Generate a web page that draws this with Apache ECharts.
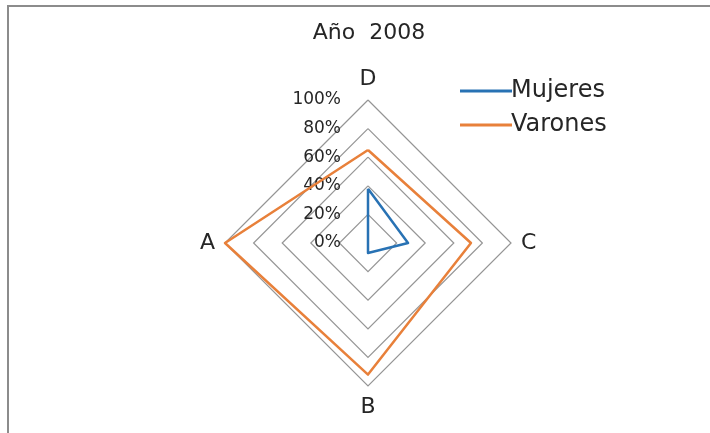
<!DOCTYPE html>
<html>
<head>
<meta charset="utf-8">
<script src="https://cdn.jsdelivr.net/npm/echarts@6/dist/echarts.min.js"></script>
<style>
html,body{margin:0;padding:0;background:#fff;}
#chart{width:710px;height:433px;}
</style>
</head>
<body>
<div id="chart"></div>
<script>
// Data
const title = 'Año  2008';
const indicators = ['D', 'A', 'B', 'C']; // counter-clockwise from top
const mujeres = [38, 0, 7, 28];
const varones = [65, 100, 92, 72];
const seriesNames = ['Mujeres', 'Varones'];
const tickMax = 100;

const FONT = 'DejaVu Sans';
const chart = echarts.init(document.getElementById('chart'));
chart.setOption({
  backgroundColor: '#fff',
  animation: false,
  title: {
    text: title,
    left: 364, top: 17, textAlign: 'center',
    textStyle: { fontFamily: FONT, fontSize: 22, fontWeight: 'normal', color: '#262626' }
  },
  legend: {
    orient: 'vertical',
    left: 455, top: 74,
    itemWidth: 52, itemHeight: 3, itemGap: 10,
    icon: 'rect',
    data: seriesNames,
    textStyle: { fontFamily: FONT, fontSize: 24, color: '#262626', padding: [0, 0, 0, -6] }
  },
  graphic: [{
    type: 'polyline',
    shape: { points: [[8, 440], [8, 6], [720, 6]] },
    style: { stroke: '#8c8c8c', lineWidth: 2, fill: null },
    silent: true
  }],
  radar: {
    center: [368, 243],
    radius: 143,
    shape: 'polygon',
    splitNumber: 5,
    startAngle: 90,
    nameGap: 10,
    axisName: { fontFamily: FONT, fontSize: 22, color: '#262626' },
    indicator: indicators.map((n, i) => {
      const o = { name: n, min: 0, max: tickMax };
      if (i === 0) {
        o.axisLabel = {
          show: true, margin: 27, fontFamily: FONT, fontSize: 17, color: '#262626',
          formatter: v => v + '%'
        };
      }
      return o;
    }),
    axisLine: { show: false },
    axisTick: { show: false },
    axisLabel: { show: false },
    splitLine: { lineStyle: { color: '#959595', width: 1.2 } },
    splitArea: { show: false }
  },
  series: [{
    type: 'radar',
    symbol: 'none',
    data: [
      { name: seriesNames[0], value: mujeres, lineStyle: { color: '#2872b4', width: 2.5 }, itemStyle: { color: '#2872b4' } },
      { name: seriesNames[1], value: varones, lineStyle: { color: '#e8803a', width: 2.5 }, itemStyle: { color: '#e8803a' } }
    ]
  }]
});
</script>
</body>
</html>
